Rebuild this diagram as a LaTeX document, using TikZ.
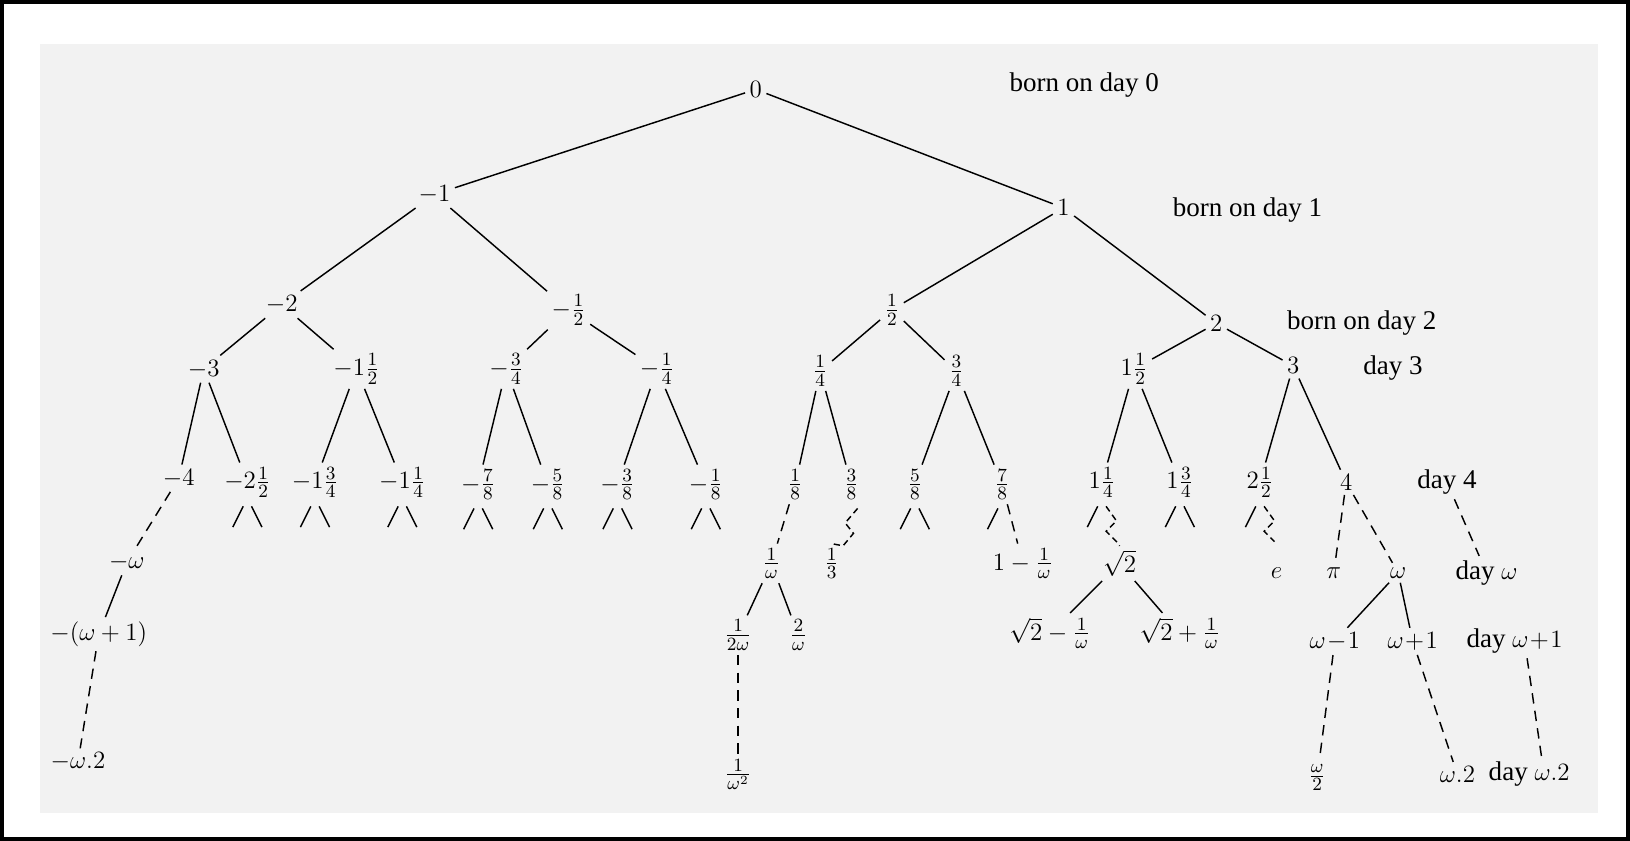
\documentclass[tikz,border=0pt]{standalone}
\usepackage{fontspec}
\setmainfont{Liberation Serif}
\usetikzlibrary{calc}
\begin{document}
\begin{tikzpicture}[x=0.5pt,y=-0.5pt,
  every node/.style={inner sep=2pt,font=\fontsize{13}{15}\selectfont},
  ln/.style={line width=0.7pt},
  dsh/.style={line width=0.7pt,dash pattern=on 5pt off 3.5pt},
  zz/.style={line width=0.7pt,dash pattern=on 3pt off 2pt}]
\useasboundingbox (0,0) rectangle (1568,809);
\fill[white] (0,0) rectangle (1568,809);
\fill[black!5] (38,42) rectangle (1537,782);
\draw[line width=2pt] (2,2) rectangle (1566,807);
\newcommand{\stubs}[1]{\draw[ln] ([xshift=-2pt,yshift=-2pt]#1.south) -- ++(-5pt,-10pt);
  \draw[ln] ([xshift=2pt,yshift=-2pt]#1.south) -- ++(5pt,-10pt);}
% labels
\node (L0) at (1043,82) {born on day 0};
\node (L1) at (1200,202) {born on day 1};
\node (L2) at (1310,311) {born on day 2};
\node (L3) at (1340,354) {day 3};
\node (L4) at (1392,464) {day 4};
\node (Lw) at (1430,551) {day $\omega$};
\node (Lw1) at (1457,617) {day $\omega\!+\!1$};
\node (Lw2) at (1471,745) {day $\omega.2$};
% tree
\node (n0) at (727,86) {$0$};
\node (a) at (418,187) {$-1$};
\node (b) at (1023,200) {$1$};
\node (aa) at (271,293) {$-2$};
\node (ab) at (547,298) {$-\frac12$};
\node (ba) at (858,298) {$\frac12$};
\node (bb) at (1170,311) {$2$};
\node (aaa) at (196,355) {$-3$};
\node (aab) at (343,355) {$-1\frac12$};
\node (aba) at (487,355) {$-\frac34$};
\node (abb) at (632,355) {$-\frac14$};
\node (baa) at (789,357) {$\frac14$};
\node (bab) at (920,357) {$\frac34$};
\node (bba) at (1091,355) {$1\frac12$};
\node (bbb) at (1244,352) {$3$};
\node (m4) at (172,460) {$-4$};
\node (m52) at (238,464) {$-2\frac12$};
\node (m74) at (303,464) {$-1\frac34$};
\node (m54) at (387,464) {$-1\frac14$};
\node (m78) at (460,466) {$-\frac78$};
\node (m58) at (527,466) {$-\frac58$};
\node (m38) at (594,466) {$-\frac38$};
\node (m18) at (679,466) {$-\frac18$};
\node (p18) at (765,466) {$\frac18$};
\node (p38) at (819,466) {$\frac38$};
\node (p58) at (880,466) {$\frac58$};
\node (p78) at (964,466) {$\frac78$};
\node (p54) at (1060,464) {$1\frac14$};
\node (p74) at (1135,464) {$1\frac34$};
\node (p52) at (1212,464) {$2\frac12$};
\node (p4) at (1295,464) {$4$};
\node (mw) at (122,541) {$-\omega$};
\node (mw1) at (95,610) {$-(\omega+1)$};
\node (mw2) at (75,733) {$-\omega.2$};
\node (iw) at (742,542) {$\frac1\omega$};
\node (i3) at (800,542) {$\frac13$};
\node (omw) at (984,542) {$1-\frac1\omega$};
\node (r2) at (1077,542) {$\sqrt2$};
\node (e) at (1228,551) {$e$};
\node (pi) at (1283,551) {$\pi$};
\node (w) at (1345,551) {$\omega$};
\node (i2w) at (710,611) {$\frac1{2\omega}$};
\node (tw) at (768,611) {$\frac2\omega$};
\node (r2m) at (1010,609) {$\sqrt2-\frac1\omega$};
\node (r2p) at (1135,609) {$\sqrt2+\frac1\omega$};
\node (wm1) at (1284,617) {$\omega\!-\!1$};
\node (wp1) at (1359,617) {$\omega\!+\!1$};
\node (iw2) at (710,745) {$\frac1{\omega^2}$};
\node (wh) at (1267,748) {$\frac\omega2$};
\node (w2) at (1402,745) {$\omega.2$};
% solid edges
\draw[ln] (n0) -- (a); \draw[ln] (n0) -- (b);
\draw[ln] (a) -- (aa); \draw[ln] (a) -- (ab);
\draw[ln] (b) -- (ba); \draw[ln] (b) -- (bb);
\draw[ln] (aa) -- (aaa); \draw[ln] (aa) -- (aab);
\draw[ln] (ab) -- (aba); \draw[ln] (ab) -- (abb);
\draw[ln] (ba) -- (baa); \draw[ln] (ba) -- (bab);
\draw[ln] (bb) -- (bba); \draw[ln] (bb) -- (bbb);
\draw[ln] (aaa) -- (m4); \draw[ln] (aaa) -- (m52);
\draw[ln] (aab) -- (m74); \draw[ln] (aab) -- (m54);
\draw[ln] (aba) -- (m78); \draw[ln] (aba) -- (m58);
\draw[ln] (abb) -- (m38); \draw[ln] (abb) -- (m18);
\draw[ln] (baa) -- (p18); \draw[ln] (baa) -- (p38);
\draw[ln] (bab) -- (p58); \draw[ln] (bab) -- (p78);
\draw[ln] (bba) -- (p54); \draw[ln] (bba) -- (p74);
\draw[ln] (bbb) -- (p52); \draw[ln] (bbb) -- (p4);
\draw[ln] (mw) -- (mw1);
\draw[ln] (iw) -- (i2w); \draw[ln] (iw) -- (tw);
\draw[ln] (r2) -- (r2m); \draw[ln] (r2) -- (r2p);
\draw[ln] (w) -- (wm1); \draw[ln] (w) -- (wp1);
% stubs
\stubs{m52} \stubs{m74} \stubs{m54} \stubs{m78} \stubs{m58} \stubs{m38}
\stubs{m18} \stubs{p58} \stubs{p74}
\draw[ln] ([xshift=-2pt,yshift=-2pt]p78.south) -- ++(-5pt,-10pt);
\draw[ln] ([xshift=-2pt,yshift=-2pt]p54.south) -- ++(-5pt,-10pt);
\draw[ln] ([xshift=-2pt,yshift=-2pt]p52.south) -- ++(-5pt,-10pt);
% dashed edges
\draw[dsh] (m4) -- (mw);
\draw[dsh] (mw1) -- (mw2);
\draw[dsh] (p18) -- (iw);
\draw[dsh] (i2w) -- (iw2);
\draw[dsh] (p78) -- (omw);
\draw[dsh] (p4) -- (pi); \draw[dsh] (p4) -- (w);
\draw[dsh] (L4) -- (Lw);
\draw[dsh] (wm1) -- (wh);
\draw[dsh] (wp1) -- (w2);
\draw[dsh] ([xshift=6pt]Lw1.south) -- ([xshift=6pt]Lw2.north);
% zigzags
\draw[zz] ([xshift=3pt,yshift=-2pt]p38.south) -- ++(-6pt,-7pt) -- ++(4pt,-5pt) -- ++(-5pt,-6pt) -- (i3.north);
\draw[zz] ([xshift=2pt,yshift=-2pt]p54.south) -- ++(5pt,-7pt) -- ++(-5pt,-5pt) -- ++(5pt,-5pt) -- (r2.north);
\draw[zz] ([xshift=2pt,yshift=-2pt]p52.south) -- ++(5pt,-7pt) -- ++(-5pt,-5pt) -- ++(5pt,-5pt);
\end{tikzpicture}
\end{document}
